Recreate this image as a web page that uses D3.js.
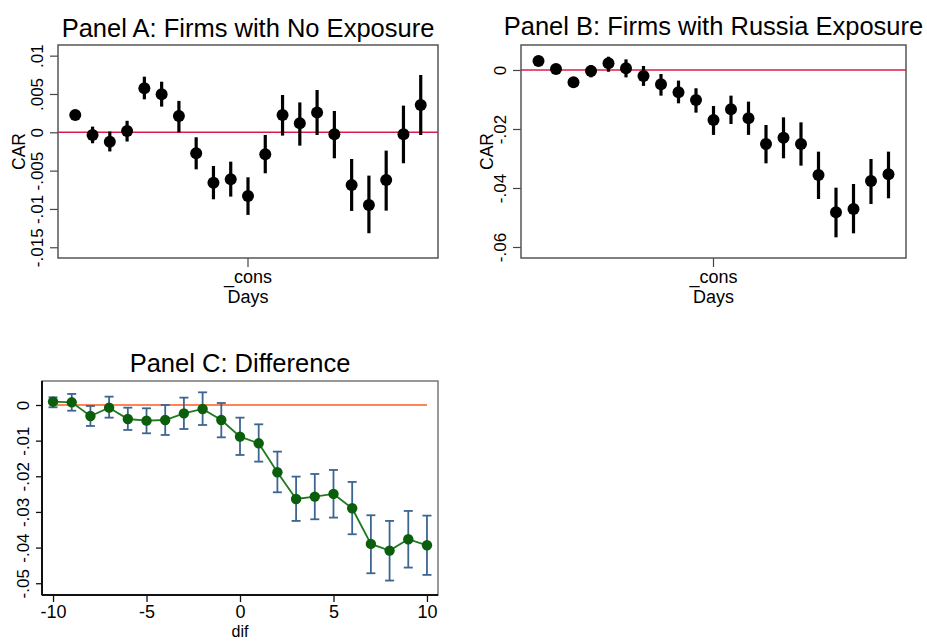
<!DOCTYPE html>
<html>
<head>
<meta charset="utf-8">
<script src="https://cdn.jsdelivr.net/npm/d3@7"></script>
<style>
  body { margin: 0; background: #fff; }
  svg { display: block; font-family: "Liberation Sans", Arial, Helvetica, sans-serif; }
</style>
</head>
<body>
<svg id="chart" width="927" height="641"></svg>
<script>
// event days
const days = [-10, -9, -8, -7, -6, -5, -4, -3, -2, -1, 0, 1, 2, 3, 4, 5, 6, 7, 8, 9, 10];

// Panel A: firms with no exposure
const carA = [0.00226, -0.00035, -0.00122, 0.00017, 0.00574, 0.00496, 0.00213, -0.00274, -0.00657, -0.00613, -0.0083,
  -0.00287, 0.00226, 0.00117, 0.00257, -0.00026, -0.00687, -0.00948, -0.00622, -0.00026, 0.00357];
const loA = [0.00205, -0.00143, -0.0025, -0.0012, 0.0043, 0.00335, 0.0, -0.00483, -0.00874, -0.00839, -0.01078,
  -0.00535, -0.00043, -0.00174, -0.00035, -0.00339, -0.01026, -0.01317, -0.01022, -0.00404, -0.00035];
const hiA = [0.00245, 0.00074, 0.0001, 0.0015, 0.00726, 0.0066, 0.0041, -0.00065, -0.0044, -0.00383, -0.00587,
  -0.00035, 0.00487, 0.0039, 0.00552, 0.00278, -0.00348, -0.00565, -0.00239, 0.00348, 0.00748];
const ticksA = [0.01, 0.005, 0, -0.005, -0.01, -0.015];
const tickLabelsA = [".01", ".005", "0", "-.005", "-.01", "-.015"];

// Panel B: firms with Russia exposure
const carB = [0.00305, 0.00034, -0.00418, -0.00034, 0.00226, 0.00056, -0.00203, -0.00486, -0.00757, -0.01017, -0.01695,
  -0.01333, -0.01638, -0.02508, -0.02294, -0.02508, -0.03559, -0.04825, -0.04712, -0.03763, -0.03537];
const loB = [0.0027, 0.0, -0.0059, -0.0025, -0.0006, -0.0025, -0.0054, -0.0087, -0.0113, -0.01446, -0.022,
  -0.0183, -0.022, -0.03164, -0.02994, -0.03243, -0.04373, -0.05672, -0.05537, -0.04542, -0.0435];
const hiB = [0.0034, 0.0007, -0.0028, 0.0017, 0.0045, 0.0036, 0.00136, -0.00136, -0.0036, -0.0062, -0.0122,
  -0.0087, -0.01073, -0.01864, -0.01605, -0.01774, -0.02768, -0.03989, -0.03864, -0.03017, -0.02768];
const ticksB = [0, -0.02, -0.04, -0.06];
const tickLabelsB = ["0", "-.02", "-.04", "-.06"];

// Panel C: difference
const difC = [0.00093, 0.00075, -0.00308, -0.00075, -0.00393, -0.00439, -0.00421, -0.00234, -0.00112, -0.00421, -0.00888,
  -0.01075, -0.01888, -0.02636, -0.0257, -0.02495, -0.02897, -0.03897, -0.04084, -0.03766, -0.03935];
const loC = [-0.00065, -0.0016, -0.00589, -0.00355, -0.007, -0.00794, -0.00841, -0.00673, -0.00561, -0.00907, -0.01402,
  -0.01589, -0.02449, -0.03252, -0.03206, -0.03159, -0.03626, -0.0472, -0.04925, -0.04561, -0.04766];
const hiC = [0.00215, 0.0031, -0.00028, 0.00234, -0.00075, -0.00093, 0.0, 0.00206, 0.00355, 0.00056, -0.00355,
  -0.00542, -0.01308, -0.02009, -0.01935, -0.01822, -0.02159, -0.03093, -0.03252, -0.02972, -0.03103];
const ticksC = [0, -0.01, -0.02, -0.03, -0.04, -0.05];
const tickLabelsC = ["0", "-.01", "-.02", "-.03", "-.04", "-.05"];
const xTicksC = [-10, -5, 0, 5, 10];

const svg = d3.select("#chart");

function coefPanel(opt) {
  const {left, right, top, bottom} = opt.frame;
  const x = d3.scaleLinear().domain([-11, 11]).range([left, right]);
  const y = d3.scaleLinear().domain(opt.yDomain).range([bottom, top]);
  const g = svg.append("g");

  g.append("text")
    .attr("x", (left + right) / 2).attr("y", opt.titleY)
    .attr("text-anchor", "middle").attr("font-size", 25.5)
    .text(opt.title);

  // y axis ticks + rotated labels
  const yAxis = g.append("g").attr("transform", `translate(${left},0)`)
    .call(d3.axisLeft(y).tickValues(opt.ticks).tickSize(8).tickFormat((d, i) => opt.tickLabels[i]));
  yAxis.select(".domain").remove();
  yAxis.selectAll(".tick line").attr("stroke", "#444").attr("stroke-width", 1.2);
  yAxis.selectAll(".tick text")
    .attr("x", null).attr("dy", null)
    .attr("font-size", 17).attr("fill", "#000")
    .attr("text-anchor", "middle")
    .attr("transform", `translate(${opt.labelX - left},0) rotate(-90)`);

  g.append("text")
    .attr("transform", `translate(${opt.carX},${(top + bottom) / 2}) rotate(-90)`)
    .attr("text-anchor", "middle").attr("font-size", 17.5)
    .text("CAR");

  // x axis: single _cons tick
  g.append("line")
    .attr("x1", x(0)).attr("x2", x(0)).attr("y1", bottom).attr("y2", bottom + 9)
    .attr("stroke", "#444").attr("stroke-width", 1.2);
  g.append("text").attr("x", x(0)).attr("y", bottom + 25)
    .attr("text-anchor", "middle").attr("font-size", 18).text("_cons");
  g.append("text").attr("x", x(0)).attr("y", bottom + 45)
    .attr("text-anchor", "middle").attr("font-size", 18).text("Days");

  // zero line
  g.append("line")
    .attr("x1", left).attr("x2", right).attr("y1", y(0)).attr("y2", y(0))
    .attr("stroke", "#dc1a4a").attr("stroke-width", 1.6);

  // confidence intervals
  g.selectAll("line.ci").data(days).join("line").attr("class", "ci")
    .attr("x1", d => x(d)).attr("x2", d => x(d))
    .attr("y1", (d, i) => y(opt.lo[i])).attr("y2", (d, i) => y(opt.hi[i]))
    .attr("stroke", "#000").attr("stroke-width", 3.2);

  g.selectAll("circle.pt").data(days).join("circle").attr("class", "pt")
    .attr("cx", d => x(d)).attr("cy", (d, i) => y(opt.est[i]))
    .attr("r", 6).attr("fill", "#000");

  g.append("rect")
    .attr("x", left).attr("y", top).attr("width", right - left).attr("height", bottom - top)
    .attr("fill", "none").attr("stroke", "#555").attr("stroke-width", 1.5);
}

coefPanel({
  frame: {left: 58, right: 438, top: 45, bottom: 258},
  yDomain: [-0.0164, 0.01139],
  title: "Panel A: Firms with No Exposure", titleY: 37,
  ticks: ticksA, tickLabels: tickLabelsA, labelX: 43, carX: 25,
  est: carA, lo: loA, hi: hiA
});

coefPanel({
  frame: {left: 521, right: 906, top: 45, bottom: 258},
  yDomain: [-0.06373, 0.00847],
  title: "Panel B: Firms with Russia Exposure", titleY: 35,
  ticks: ticksB, tickLabels: tickLabelsB, labelX: 506, carX: 493,
  est: carB, lo: loB, hi: hiB
});

// Panel C
(function () {
  const left = 42, right = 438, top = 381, bottom = 595;
  const x = d3.scaleLinear().domain([-10.59, 10.59]).range([left, right]);
  const y = d3.scaleLinear().domain([-0.0533, 0.00673]).range([bottom, top]);
  const g = svg.append("g");

  g.append("text")
    .attr("x", (left + right) / 2).attr("y", 372)
    .attr("text-anchor", "middle").attr("font-size", 25.5)
    .text("Panel C: Difference");

  // frame: gray top/right, black left/bottom axes
  g.append("rect")
    .attr("x", left).attr("y", top).attr("width", right - left).attr("height", bottom - top)
    .attr("fill", "none").attr("stroke", "#777").attr("stroke-width", 1.5);

  const yAxis = g.append("g").attr("transform", `translate(${left},0)`)
    .call(d3.axisLeft(y).tickValues(ticksC).tickSize(6).tickFormat((d, i) => tickLabelsC[i]));
  yAxis.select(".domain").attr("stroke", "#111").attr("stroke-width", 2)
    .attr("d", `M0,${top}V${bottom}`);
  yAxis.selectAll(".tick line").attr("stroke", "#111").attr("stroke-width", 1.3);
  yAxis.selectAll(".tick text")
    .attr("x", null).attr("dy", null)
    .attr("font-size", 17).attr("fill", "#000")
    .attr("text-anchor", "middle")
    .attr("transform", `translate(${29 - left},0) rotate(-90)`);

  const xAxis = g.append("g").attr("transform", `translate(0,${bottom})`)
    .call(d3.axisBottom(x).tickValues(xTicksC).tickSize(7).tickFormat(d3.format("d")));
  xAxis.select(".domain").attr("stroke", "#111").attr("stroke-width", 2)
    .attr("d", `M${left},0H${right}`);
  xAxis.selectAll(".tick line").attr("stroke", "#111").attr("stroke-width", 1.3);
  xAxis.selectAll(".tick text")
    .attr("y", 23).attr("dy", null).attr("font-size", 18).attr("fill", "#000");
  xAxis.selectAll(".tick text").text(d => d < 0 ? "-" + Math.abs(d) : d);

  g.append("text").attr("x", x(0)).attr("y", 637)
    .attr("text-anchor", "middle").attr("font-size", 16).text("dif");

  // zero reference line
  g.append("line")
    .attr("x1", x(-10)).attr("x2", x(10)).attr("y1", y(0)).attr("y2", y(0))
    .attr("stroke", "#ff5a1e").attr("stroke-width", 1.6);

  // error bars with caps
  const cap = 4.5;
  const eb = g.selectAll("g.eb").data(days).join("g").attr("class", "eb")
    .attr("stroke", "#3d6591").attr("stroke-width", 1.8);
  eb.append("line")
    .attr("x1", d => x(d)).attr("x2", d => x(d))
    .attr("y1", (d, i) => y(loC[i])).attr("y2", (d, i) => y(hiC[i]));
  eb.append("line")
    .attr("x1", d => x(d) - cap).attr("x2", d => x(d) + cap)
    .attr("y1", (d, i) => y(loC[i])).attr("y2", (d, i) => y(loC[i]));
  eb.append("line")
    .attr("x1", d => x(d) - cap).attr("x2", d => x(d) + cap)
    .attr("y1", (d, i) => y(hiC[i])).attr("y2", (d, i) => y(hiC[i]));

  const line = d3.line().x(d => x(d[0])).y(d => y(d[1]));
  g.append("path")
    .datum(days.map((d, i) => [d, difC[i]]))
    .attr("d", line).attr("fill", "none")
    .attr("stroke", "#1e7a1e").attr("stroke-width", 1.8);

  g.selectAll("circle.pt").data(days).join("circle").attr("class", "pt")
    .attr("cx", d => x(d)).attr("cy", (d, i) => y(difC[i]))
    .attr("r", 5.2).attr("fill", "#0b5e0b");
})();
</script>
</body>
</html>
